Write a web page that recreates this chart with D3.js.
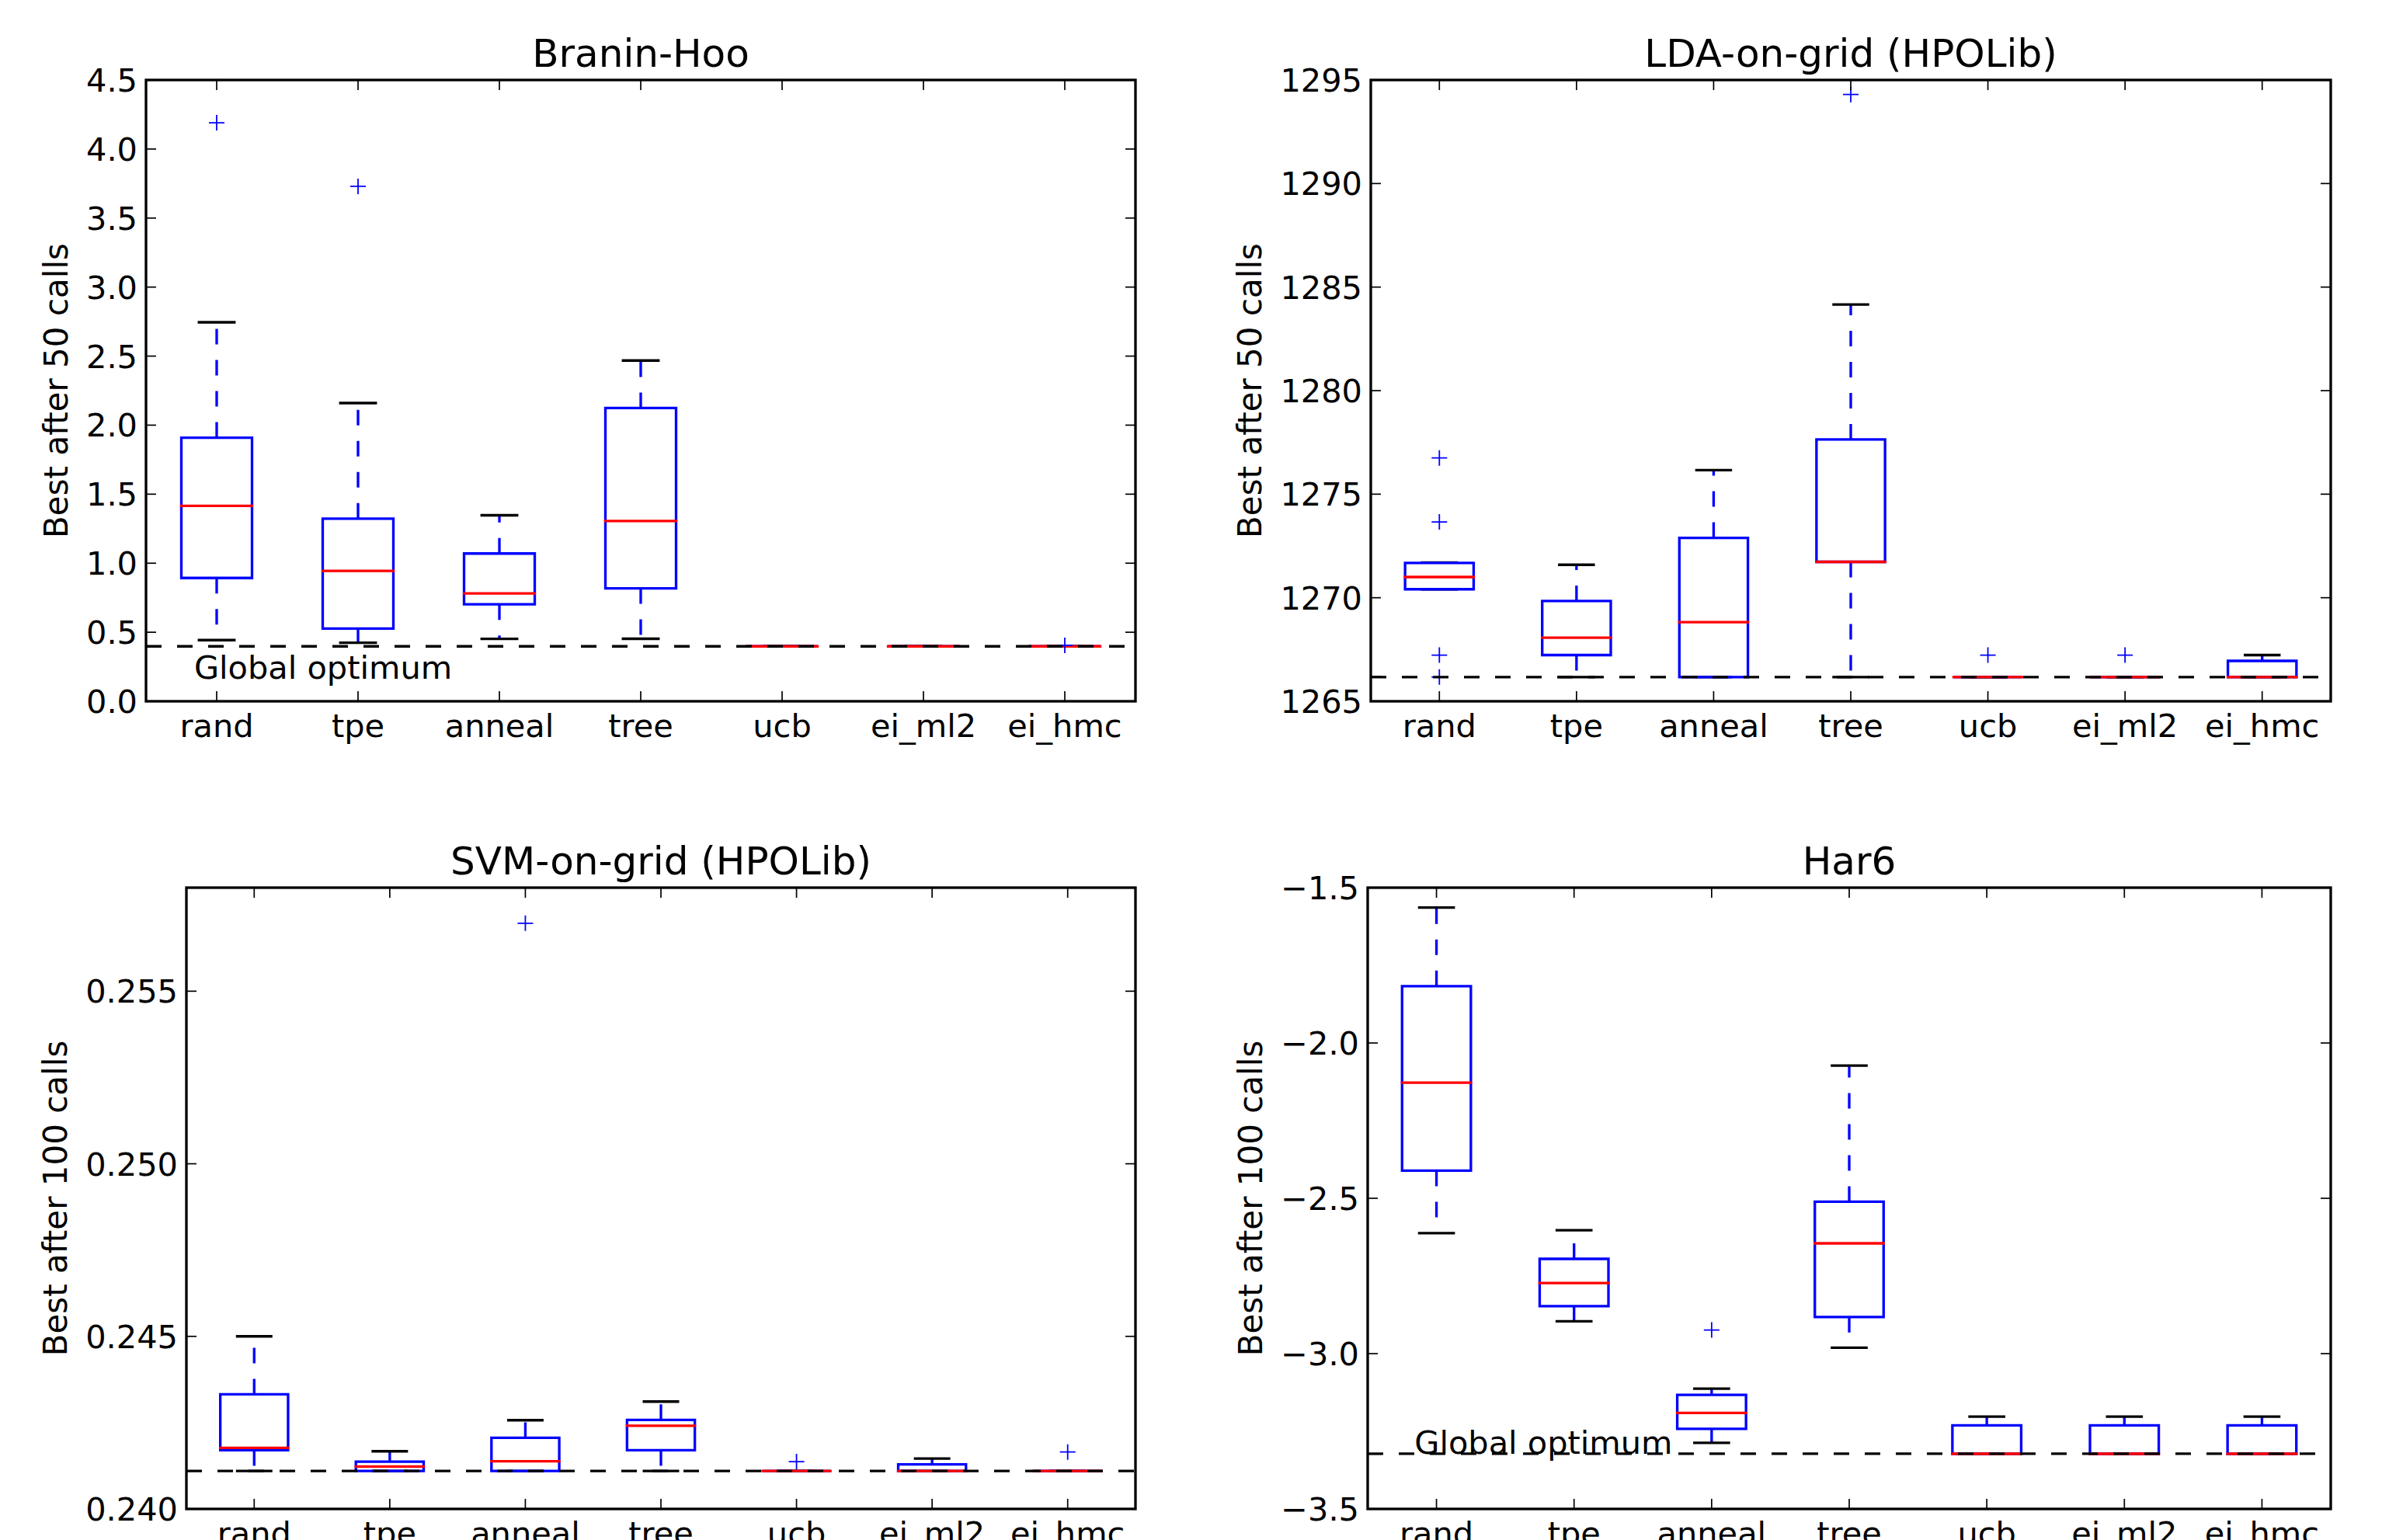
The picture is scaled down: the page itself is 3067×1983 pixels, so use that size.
<!DOCTYPE html>
<html>
<head>
<meta charset="utf-8">
<script src="https://cdn.jsdelivr.net/npm/d3@7"></script>
<style>
  html, body { margin: 0; padding: 0; background: #fff; overflow: hidden; }
  svg { display: block; font-family: "DejaVu Sans", sans-serif; }
</style>
</head>
<body>
<svg id="chart" width="3067" height="1983"></svg>
<script>
// optimisers on the x axis
var methods = ["rand", "tpe", "anneal", "tree", "ucb", "ei_ml2", "ei_hmc"];

// Branin-Hoo, best after 50 calls
var braninLow  = [0.443, 0.424, 0.452, 0.453, 0.398, 0.398, 0.398];
var braninQ1   = [0.893, 0.527, 0.702, 0.818, 0.398, 0.398, 0.398];
var braninMed  = [1.415, 0.944, 0.781, 1.306, 0.398, 0.398, 0.398];
var braninQ3   = [1.909, 1.323, 1.070, 2.124, 0.398, 0.398, 0.398];
var braninHigh = [2.745, 2.160, 1.347, 2.468, 0.398, 0.398, 0.398];
var braninOut  = [[4.19], [3.73], [], [], [], [], [0.405]];
var braninOpt  = 0.397887;
var braninTicks = [0, 0.5, 1, 1.5, 2, 2.5, 3, 3.5, 4, 4.5];

// LDA-on-grid (HPOLib), best after 50 calls
var ldaLow  = [1270.41, 1266.17, 1266.17, 1266.17, 1266.17, 1266.17, 1266.17];
var ldaQ1   = [1270.41, 1267.23, 1266.17, 1271.73, 1266.17, 1266.17, 1266.17];
var ldaMed  = [1271.00, 1268.07, 1268.82, 1271.73, 1266.17, 1266.17, 1266.17];
var ldaQ3   = [1271.68, 1269.84, 1272.89, 1277.64, 1266.17, 1266.17, 1266.95];
var ldaHigh = [1271.70, 1271.59, 1276.16, 1284.16, 1266.17, 1266.17, 1267.23];
var ldaOut  = [[1276.75, 1273.66, 1267.23, 1266.17], [], [], [1294.3], [1267.23], [1267.23], []];
var ldaOpt  = 1266.17;
var ldaTicks = [1265, 1270, 1275, 1280, 1285, 1290, 1295];

// SVM-on-grid (HPOLib), best after 100 calls
var svmLow  = [0.2411, 0.2411, 0.2411, 0.2411, 0.2411, 0.2411, 0.2411];
var svmQ1   = [0.24170, 0.2411, 0.2411, 0.24170, 0.2411, 0.2411, 0.2411];
var svmMed  = [0.24177, 0.24123, 0.24138, 0.24241, 0.2411, 0.2411, 0.2411];
var svmQ3   = [0.24332, 0.24137, 0.24206, 0.24258, 0.2411, 0.24129, 0.2411];
var svmHigh = [0.24500, 0.24167, 0.24257, 0.24311, 0.2411, 0.24146, 0.2411];
var svmOut  = [[], [], [0.25697], [], [0.24137], [], [0.24165]];
var svmOpt  = 0.2411;
var svmTicks = [0.240, 0.245, 0.250, 0.255];

// Har6, best after 100 calls
var harLow  = [-2.612, -2.896, -3.287, -2.981, -3.3224, -3.3224, -3.3224];
var harQ1   = [-2.411, -2.847, -3.242, -2.882, -3.3224, -3.3224, -3.3224];
var harMed  = [-2.128, -2.773, -3.191, -2.645, -3.3224, -3.3224, -3.3224];
var harQ3   = [-1.817, -2.695, -3.133, -2.511, -3.231, -3.231, -3.231];
var harHigh = [-1.564, -2.603, -3.113, -2.073, -3.203, -3.203, -3.203];
var harOut  = [[], [], [-2.924], [], [], [], []];
var harOpt  = -3.32237;
var harTicks = [-3.5, -3.0, -2.5, -2.0, -1.5];

var svg = d3.select("#chart");
svg.append("rect").attr("width", 3067).attr("height", 1983).attr("fill", "#fff");

// 1pt at the figure's 240 dpi
var LW = 3.33;
var FS = 41.5;

var panels = [
  { title: "Branin-Hoo", ylabel: "Best after 50 calls",
    left: 188, top: 103, right: 1462, bottom: 903, ymin: 0, ymax: 4.5,
    ticks: braninTicks, fmt: d3.format(".1f"),
    low: braninLow, q1: braninQ1, med: braninMed, q3: braninQ3, high: braninHigh, out: braninOut,
    opt: braninOpt, note: [0.84, 0.163] },
  { title: "LDA-on-grid (HPOLib)", ylabel: "Best after 50 calls",
    left: 1765, top: 103, right: 3001, bottom: 903, ymin: 1265, ymax: 1295,
    ticks: ldaTicks, fmt: d3.format("d"),
    low: ldaLow, q1: ldaQ1, med: ldaMed, q3: ldaQ3, high: ldaHigh, out: ldaOut,
    opt: ldaOpt, note: null },
  { title: "SVM-on-grid (HPOLib)", ylabel: "Best after 100 calls",
    left: 240, top: 1143, right: 1462, bottom: 1943, ymin: 0.240, ymax: 0.258,
    ticks: svmTicks, fmt: d3.format(".3f"),
    low: svmLow, q1: svmQ1, med: svmMed, q3: svmQ3, high: svmHigh, out: svmOut,
    opt: svmOpt, note: null },
  { title: "Har6", ylabel: "Best after 100 calls",
    left: 1761, top: 1143, right: 3001, bottom: 1943, ymin: -3.5, ymax: -1.5,
    ticks: harTicks, fmt: d3.format(".1f"),
    low: harLow, q1: harQ1, med: harMed, q3: harQ3, high: harHigh, out: harOut,
    opt: harOpt, note: [0.84, -3.3224] }
];

panels.forEach(function(p, pi) {
  var x = d3.scaleLinear().domain([0.5, 7.5]).range([p.left, p.right]);
  var y = d3.scaleLinear().domain([p.ymin, p.ymax]).range([p.bottom, p.top]);

  var clipId = "clip" + pi;
  svg.append("clipPath").attr("id", clipId).append("rect")
      .attr("x", p.left).attr("y", p.top)
      .attr("width", p.right - p.left).attr("height", p.bottom - p.top);

  var g = svg.append("g").attr("clip-path", "url(#" + clipId + ")");
  var bw = 0.25, cw = 0.125;

  methods.forEach(function(m, i) {
    var c = i + 1;
    // whiskers
    g.append("line").attr("x1", x(c)).attr("x2", x(c))
        .attr("y1", y(p.q1[i])).attr("y2", y(p.low[i]))
        .attr("stroke", "#0000ff").attr("stroke-width", LW).attr("stroke-dasharray", "20,20");
    g.append("line").attr("x1", x(c)).attr("x2", x(c))
        .attr("y1", y(p.q3[i])).attr("y2", y(p.high[i]))
        .attr("stroke", "#0000ff").attr("stroke-width", LW).attr("stroke-dasharray", "20,20");
    // caps
    [p.low[i], p.high[i]].forEach(function(v) {
      g.append("line").attr("x1", x(c - cw)).attr("x2", x(c + cw))
          .attr("y1", y(v)).attr("y2", y(v))
          .attr("stroke", "#000").attr("stroke-width", LW).attr("stroke-linecap", "square");
    });
    // box
    var path = d3.path();
    path.moveTo(x(c - bw), y(p.q1[i]));
    path.lineTo(x(c + bw), y(p.q1[i]));
    path.lineTo(x(c + bw), y(p.q3[i]));
    path.lineTo(x(c - bw), y(p.q3[i]));
    path.closePath();
    g.append("path").attr("d", path.toString()).attr("fill", "none")
        .attr("stroke", "#0000ff").attr("stroke-width", LW)
        .attr("stroke-linecap", "square").attr("stroke-linejoin", "miter");
    // median
    g.append("line").attr("x1", x(c - bw)).attr("x2", x(c + bw))
        .attr("y1", y(p.med[i])).attr("y2", y(p.med[i]))
        .attr("stroke", "#ff0000").attr("stroke-width", LW).attr("stroke-linecap", "square");
    // fliers
    p.out[i].forEach(function(v) {
      var px = x(c), py = y(v);
      g.append("path")
          .attr("d", "M" + (px - 10) + "," + py + "h20M" + px + "," + (py - 10) + "v20")
          .attr("stroke", "#0000ff").attr("stroke-width", 1.8).attr("fill", "none");
    });
  });

  // global optimum
  g.append("line").attr("x1", p.left).attr("x2", p.right)
      .attr("y1", y(p.opt)).attr("y2", y(p.opt))
      .attr("stroke", "#000").attr("stroke-width", LW).attr("stroke-dasharray", "20,20");

  if (p.note) {
    g.append("text").attr("x", x(p.note[0])).attr("y", y(p.note[1]))
        .attr("font-size", FS).attr("fill", "#000").text("Global optimum");
  }

  // ticks on all four sides, pointing inward
  var tk = svg.append("g").attr("stroke", "#000").attr("stroke-width", 1.7);
  p.ticks.forEach(function(v) {
    tk.append("line").attr("x1", p.left).attr("x2", p.left + 13).attr("y1", y(v)).attr("y2", y(v));
    tk.append("line").attr("x1", p.right - 13).attr("x2", p.right).attr("y1", y(v)).attr("y2", y(v));
  });
  methods.forEach(function(m, i) {
    tk.append("line").attr("x1", x(i + 1)).attr("x2", x(i + 1)).attr("y1", p.bottom).attr("y2", p.bottom - 13);
    tk.append("line").attr("x1", x(i + 1)).attr("x2", x(i + 1)).attr("y1", p.top).attr("y2", p.top + 13);
  });

  // spines
  svg.append("rect").attr("x", p.left).attr("y", p.top)
      .attr("width", p.right - p.left).attr("height", p.bottom - p.top)
      .attr("fill", "none").attr("stroke", "#000").attr("stroke-width", LW);

  // tick labels
  var yl = svg.append("g").attr("font-size", FS).attr("fill", "#000").attr("text-anchor", "end");
  p.ticks.forEach(function(v) {
    yl.append("text").attr("x", p.left - 11).attr("y", y(v) + 15).text(p.fmt(v));
  });
  var xl = svg.append("g").attr("font-size", FS).attr("fill", "#000").attr("text-anchor", "middle");
  methods.forEach(function(m, i) {
    xl.append("text").attr("x", x(i + 1)).attr("y", p.bottom + 46).text(m);
  });

  // axis label and title
  var lx = yl.node().getBBox().x - 24;
  var cy = (p.top + p.bottom) / 2;
  svg.append("text").attr("transform", "translate(" + lx + "," + cy + ") rotate(-90)")
      .attr("text-anchor", "middle").attr("font-size", 42).attr("fill", "#000").text(p.ylabel);
  svg.append("text").attr("x", (p.left + p.right) / 2).attr("y", p.top - 17)
      .attr("text-anchor", "middle").attr("font-size", 50).attr("fill", "#000").text(p.title);
});
</script>
</body>
</html>
